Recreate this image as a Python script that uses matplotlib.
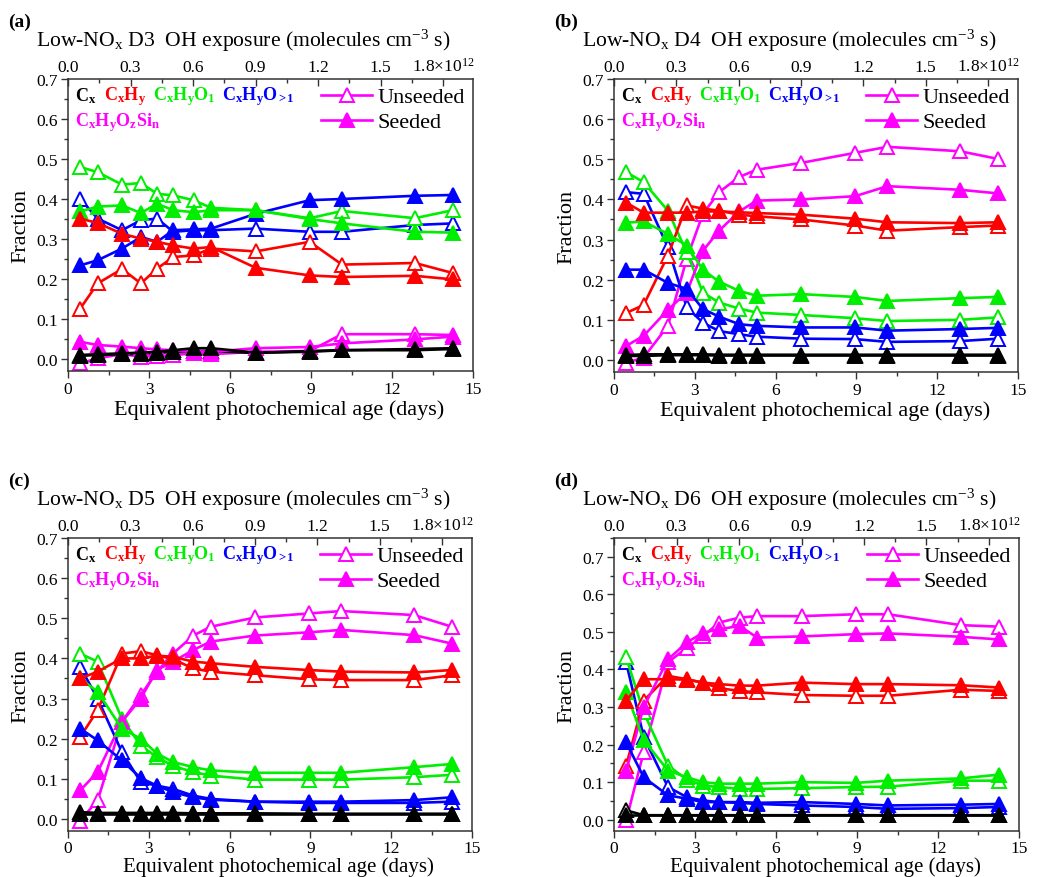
import matplotlib
matplotlib.use("Agg")
import matplotlib.pyplot as plt
from matplotlib.lines import Line2D
from matplotlib.ticker import MultipleLocator, FixedLocator

plt.rcParams['font.family'] = ['Liberation Serif', 'DejaVu Serif']
plt.rcParams['mathtext.fontset'] = 'custom'
plt.rcParams['mathtext.rm'] = 'Liberation Serif'
plt.rcParams['mathtext.it'] = 'Liberation Serif:italic'
plt.rcParams['mathtext.bf'] = 'Liberation Serif:bold'
plt.rcParams['mathtext.default'] = 'rm'

# ---------------- data ----------------
days = [0.45, 1.1, 2.0, 2.7, 3.3, 3.9, 4.65, 5.3, 6.95, 8.95, 10.15, 12.85, 14.25]
oh_per_day = 0.1296  # 1e12 molecules cm-3 s per equivalent day

species_labels = ['C$_\\mathbf{x}$', 'C$_\\mathbf{x}$H$_\\mathbf{y}$',
                  'C$_\\mathbf{x}$H$_\\mathbf{y}$O$_\\mathbf{1}$',
                  'C$_\\mathbf{x}$H$_\\mathbf{y}$O$_{\\mathbf{>}\\!\\mathbf{1}}$',
                  'C$_\\mathbf{x}$H$_\\mathbf{y}$O$_\\mathbf{z}$Si$_\\mathbf{n}$']
species_colors = ['black', '#ff0000', '#00ee00', '#0000ff', '#ff00ff']
panel_tags = ['(a)', '(b)', '(c)', '(d)']
panel_names = ['D3', 'D4', 'D5', 'D6']

# panel a (D3)
a_cx_u = [0.008, 0.010, 0.012, 0.012, 0.015, 0.018, 0.020, 0.020, 0.015, 0.020, 0.022, 0.022, 0.025]
a_cx_s = [0.010, 0.012, 0.014, 0.016, 0.018, 0.022, 0.027, 0.027, 0.016, 0.018, 0.022, 0.025, 0.027]
a_cxhy_u = [0.126, 0.189, 0.225, 0.189, 0.226, 0.255, 0.259, 0.276, 0.269, 0.293, 0.236, 0.240, 0.215]
a_cxhy_s = [0.351, 0.340, 0.313, 0.301, 0.293, 0.284, 0.276, 0.280, 0.228, 0.209, 0.205, 0.208, 0.199]
a_o1_u = [0.480, 0.467, 0.436, 0.440, 0.413, 0.409, 0.397, 0.378, 0.372, 0.352, 0.370, 0.352, 0.372]
a_o1_s = [0.369, 0.381, 0.384, 0.365, 0.388, 0.372, 0.367, 0.372, 0.372, 0.350, 0.339, 0.318, 0.316]
a_o2_u = [0.400, 0.351, 0.322, 0.347, 0.351, 0.318, 0.322, 0.322, 0.326, 0.318, 0.318, 0.335, 0.339]
a_o2_s = [0.234, 0.247, 0.276, 0.305, 0.293, 0.322, 0.324, 0.326, 0.363, 0.397, 0.400, 0.408, 0.410]
a_si_u = [-0.011, 0.002, 0.012, 0.006, 0.007, 0.010, 0.014, 0.012, 0.018, 0.020, 0.062, 0.062, 0.060]
a_si_s = [0.043, 0.035, 0.031, 0.027, 0.024, 0.022, 0.020, 0.018, 0.027, 0.030, 0.039, 0.049, 0.056]

# panel b (D4)
b_cx_u = [0.010, 0.010, 0.012, 0.012, 0.012, 0.011, 0.011, 0.011, 0.011, 0.011, 0.011, 0.011, 0.011]
b_cx_s = [0.012, 0.014, 0.014, 0.014, 0.014, 0.013, 0.013, 0.013, 0.013, 0.013, 0.013, 0.013, 0.013]
b_cxhy_u = [0.117, 0.137, 0.260, 0.385, 0.377, 0.372, 0.362, 0.358, 0.350, 0.335, 0.322, 0.331, 0.335]
b_cxhy_s = [0.392, 0.367, 0.367, 0.367, 0.370, 0.370, 0.368, 0.366, 0.362, 0.352, 0.343, 0.341, 0.343]
b_o1_u = [0.468, 0.443, 0.372, 0.268, 0.168, 0.143, 0.128, 0.118, 0.112, 0.104, 0.097, 0.100, 0.106]
b_o1_s = [0.342, 0.345, 0.314, 0.285, 0.225, 0.195, 0.172, 0.160, 0.164, 0.157, 0.147, 0.154, 0.157]
b_o2_u = [0.418, 0.414, 0.281, 0.131, 0.093, 0.072, 0.064, 0.058, 0.053, 0.052, 0.045, 0.047, 0.053]
b_o2_s = [0.225, 0.225, 0.192, 0.177, 0.127, 0.108, 0.089, 0.085, 0.081, 0.081, 0.073, 0.077, 0.080]
b_si_u = [-0.007, 0.006, 0.085, 0.252, 0.364, 0.418, 0.456, 0.474, 0.491, 0.516, 0.531, 0.520, 0.501]
b_si_s = [0.035, 0.060, 0.125, 0.168, 0.272, 0.322, 0.370, 0.397, 0.400, 0.408, 0.433, 0.424, 0.415]

# panel c (D5)
c_cx_u = [0.012, 0.012, 0.012, 0.012, 0.012, 0.012, 0.012, 0.012, 0.012, 0.012, 0.012, 0.012, 0.012]
c_cx_s = [0.017, 0.015, 0.015, 0.015, 0.015, 0.015, 0.014, 0.014, 0.014, 0.013, 0.013, 0.013, 0.013]
c_cxhy_u = [0.204, 0.271, 0.412, 0.418, 0.408, 0.398, 0.375, 0.367, 0.358, 0.348, 0.346, 0.346, 0.358]
c_cxhy_s = [0.350, 0.367, 0.400, 0.400, 0.407, 0.404, 0.392, 0.388, 0.379, 0.371, 0.367, 0.365, 0.371]
c_o1_u = [0.412, 0.392, 0.250, 0.183, 0.154, 0.132, 0.117, 0.108, 0.098, 0.098, 0.098, 0.104, 0.110]
c_o1_s = [0.350, 0.317, 0.225, 0.200, 0.163, 0.142, 0.129, 0.121, 0.115, 0.115, 0.115, 0.129, 0.137]
c_o2_u = [0.379, 0.300, 0.167, 0.092, 0.083, 0.075, 0.058, 0.050, 0.043, 0.040, 0.040, 0.040, 0.043]
c_o2_s = [0.225, 0.196, 0.146, 0.102, 0.083, 0.067, 0.054, 0.048, 0.043, 0.043, 0.043, 0.047, 0.054]
c_si_u = [-0.004, 0.046, 0.242, 0.308, 0.367, 0.412, 0.457, 0.479, 0.502, 0.512, 0.518, 0.508, 0.479]
c_si_s = [0.071, 0.117, 0.242, 0.300, 0.371, 0.392, 0.421, 0.442, 0.457, 0.465, 0.471, 0.458, 0.437]

# panel d (D6)
d_cx_u = [0.025, 0.012, 0.012, 0.012, 0.012, 0.012, 0.012, 0.012, 0.012, 0.012, 0.012, 0.012, 0.012]
d_cx_s = [0.013, 0.013, 0.013, 0.013, 0.013, 0.013, 0.013, 0.013, 0.013, 0.013, 0.013, 0.013, 0.013]
d_cxhy_u = [0.144, 0.317, 0.383, 0.374, 0.365, 0.350, 0.343, 0.339, 0.332, 0.330, 0.330, 0.346, 0.343]
d_cxhy_s = [0.317, 0.374, 0.374, 0.373, 0.365, 0.361, 0.357, 0.357, 0.365, 0.361, 0.361, 0.358, 0.352]
d_o1_u = [0.432, 0.286, 0.144, 0.107, 0.091, 0.087, 0.082, 0.082, 0.084, 0.087, 0.088, 0.104, 0.104]
d_o1_s = [0.339, 0.212, 0.131, 0.113, 0.100, 0.096, 0.096, 0.096, 0.100, 0.098, 0.104, 0.110, 0.120]
d_o2_u = [0.419, 0.220, 0.087, 0.060, 0.051, 0.047, 0.045, 0.042, 0.038, 0.034, 0.029, 0.031, 0.034]
d_o2_s = [0.206, 0.113, 0.065, 0.056, 0.047, 0.047, 0.047, 0.045, 0.047, 0.042, 0.038, 0.040, 0.042]
d_si_u = [-0.002, 0.180, 0.419, 0.458, 0.489, 0.525, 0.538, 0.542, 0.542, 0.547, 0.547, 0.518, 0.514]
d_si_s = [0.130, 0.300, 0.427, 0.472, 0.498, 0.507, 0.516, 0.485, 0.488, 0.494, 0.496, 0.487, 0.480]

panels = [
    [(a_cx_u, a_cx_s), (a_cxhy_u, a_cxhy_s), (a_o1_u, a_o1_s), (a_o2_u, a_o2_s), (a_si_u, a_si_s)],
    [(b_cx_u, b_cx_s), (b_cxhy_u, b_cxhy_s), (b_o1_u, b_o1_s), (b_o2_u, b_o2_s), (b_si_u, b_si_s)],
    [(c_cx_u, c_cx_s), (c_cxhy_u, c_cxhy_s), (c_o1_u, c_o1_s), (c_o2_u, c_o2_s), (c_si_u, c_si_s)],
    [(d_cx_u, d_cx_s), (d_cxhy_u, d_cxhy_s), (d_o1_u, d_o1_s), (d_o2_u, d_o2_s), (d_si_u, d_si_s)],
]
ytops = [0.7, 0.7, 0.7, 0.75]

# ---------------- layout ----------------
W, H = 1044, 878
fig = plt.figure(figsize=(W / 100, H / 100), dpi=100)
boxes = [(68, 80, 473, 372), (614, 80, 1018, 373), (68, 539, 472, 832), (614, 539, 1019, 832)]
xlabel_pads = [1, 1, 0, 0]
xlabel_sizes = [16, 16, 15, 15]
xtick_pads = [2.5, 2.5, 1.5, 1.5]

LW = 1.9
MS = 9.8
MEW = 1.4
TICK_FS = 12.5
LABEL_FS = 16

draw_order = [4, 3, 2, 1, 0]

for i, (l, t, r, b) in enumerate(boxes):
    ax = fig.add_axes([l / W, 1 - b / H, (r - l) / W, (b - t) / H])
    data = panels[i]
    for k in draw_order:
        u, s = data[k]
        col = species_colors[k]
        ax.plot(days, u, color=col, lw=LW, marker='^', ms=MS, mfc='white',
                mec=col, mew=MEW, zorder=2 + 0.1 * (4 - k))
    for k in draw_order:
        u, s = data[k]
        col = species_colors[k]
        ax.plot(days, s, color=col, lw=LW, marker='^', ms=MS, mfc=col,
                mec=col, mew=MEW, zorder=3 + 0.1 * (4 - k))

    ax.set_xlim(0, 15)
    ax.set_ylim(-0.03, ytops[i])
    ax.xaxis.set_major_locator(MultipleLocator(3))
    ax.xaxis.set_minor_locator(MultipleLocator(1.5))
    ax.set_yticks([0.0, 0.1, 0.2, 0.3, 0.4, 0.5, 0.6, 0.7])
    ax.set_yticklabels(['0.0', '0.1', '0.2', '0.3', '0.4', '0.5', '0.6', '0.7'])
    ax.yaxis.set_minor_locator(MultipleLocator(0.05))
    ax.tick_params(axis='both', which='major', direction='out', length=5, width=1,
                   labelsize=TICK_FS, pad=2.5, top=False, right=False, colors='#333333',
                   labelcolor='black')
    ax.tick_params(axis='x', which='major', pad=xtick_pads[i])
    ax.tick_params(axis='both', which='minor', direction='out', length=3, width=1,
                   top=False, right=False, colors='#333333')
    for sp in ax.spines.values():
        sp.set_linewidth(1.1)
        sp.set_color('#333333')
    ax.set_xlabel('Equivalent photochemical age (days)', fontsize=xlabel_sizes[i],
                  labelpad=xlabel_pads[i])
    ax.xaxis.label.set_x(0.522)
    ax.set_ylabel('Fraction', fontsize=LABEL_FS, labelpad=4)

    # top axis: OH exposure
    top = ax.twiny()
    top.set_xlim(0, 15 * oh_per_day)
    top.xaxis.set_major_locator(FixedLocator([0.0, 0.3, 0.6, 0.9, 1.2, 1.5, 1.8]))
    top.set_xticklabels(['0.0', '0.3', '0.6', '0.9', '1.2', '1.5', '1.8\u00d710$^{12}$'])
    top.xaxis.set_minor_locator(MultipleLocator(0.15))
    top.tick_params(axis='x', which='major', direction='in', length=5, width=1,
                    labelsize=TICK_FS, pad=3, colors='#333333', labelcolor='black')
    top.tick_params(axis='x', which='minor', direction='in', length=3, width=1,
                    colors='#333333')
    for sp in top.spines.values():
        sp.set_visible(False)

    # headings
    fig.text((l - 60) / W, 1 - (t - 58) / H, panel_tags[i], fontsize=14,
             fontweight='bold', ha='left', va='center')
    fig.text((l - 32) / W, 1 - (t - 39) / H,
             'Low-NO$_\\mathrm{x}$ ' + panel_names[i] + '  OH exposure (molecules cm$^{-3}$ s)',
             fontsize=15.6, ha='left', va='center')

    # species labels
    prev = ax.text(0.018, 0.945, species_labels[0], transform=ax.transAxes,
                   color=species_colors[0], fontsize=13, fontweight='bold',
                   ha='left', va='center')
    for k in range(1, 4):
        prev = ax.annotate(species_labels[k], xy=(1, 0.5), xycoords=prev,
                           xytext=(5, 0), textcoords='offset points',
                           color=species_colors[k], fontsize=13, fontweight='bold',
                           ha='left', va='center')
    ax.text(0.018, 0.855, species_labels[4], transform=ax.transAxes,
            color=species_colors[4], fontsize=13, fontweight='bold',
            ha='left', va='center')

    # legend
    h_u = Line2D([], [], color='#ff00ff', lw=LW, marker='^', ms=MS, mfc='white',
                 mec='#ff00ff', mew=MEW)
    h_s = Line2D([], [], color='#ff00ff', lw=LW, marker='^', ms=MS, mfc='#ff00ff',
                 mec='#ff00ff', mew=MEW)
    ax.legend([h_u, h_s], ['Unseeded', 'Seeded'], loc='upper right',
              bbox_to_anchor=(1.0, 1.0), frameon=False, fontsize=16,
              handlelength=2.3, handletextpad=0.25, labelspacing=0.2,
              borderaxespad=0.15, borderpad=0.2)

fig.savefig('out.png', dpi=100)
